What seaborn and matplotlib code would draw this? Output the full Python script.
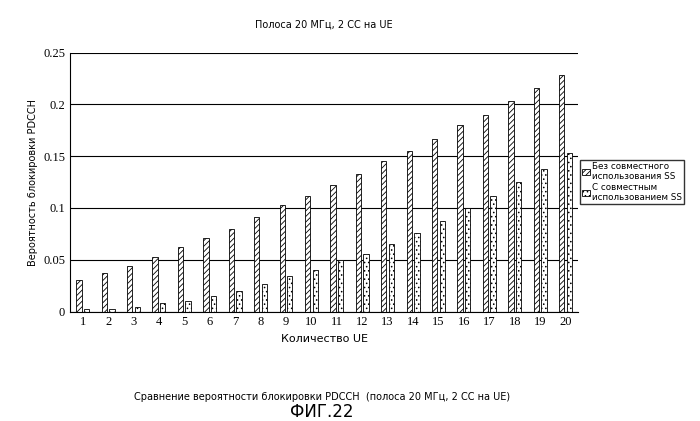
import matplotlib
matplotlib.use("Agg")
import matplotlib.pyplot as plt
import seaborn as sns
import pandas as pd

# данные с картинки
kol_ue = list(range(1, 21))
bez_ss = [0.030, 0.037, 0.044, 0.053, 0.062, 0.071, 0.080, 0.091, 0.103, 0.112,
          0.122, 0.133, 0.145, 0.155, 0.167, 0.180, 0.190, 0.203, 0.216, 0.228]
s_ss = [0.002, 0.002, 0.004, 0.008, 0.010, 0.015, 0.020, 0.027, 0.034, 0.040,
        0.050, 0.056, 0.065, 0.076, 0.087, 0.100, 0.112, 0.125, 0.138, 0.153]
serii = ["Без совместного\nиспользования SS", "С совместным\nиспользованием SS"]

df = pd.DataFrame({
    "ue": kol_ue * 2,
    "p": bez_ss + s_ss,
    "serija": [serii[0]] * 20 + [serii[1]] * 20,
})

plt.rcParams["font.family"] = "Liberation Serif"
plt.rcParams["hatch.linewidth"] = 0.6
fig = plt.figure(figsize=(7, 4.21), dpi=100)
ax = fig.add_axes([0.10, 0.26, 0.726, 0.615])

sns.barplot(data=df, x="ue", y="p", hue="serija", palette=["white", "white"],
            edgecolor="black", linewidth=0.6, width=0.6, gap=0.3, ax=ax, legend=True)
for bar in ax.containers[0]:
    bar.set_hatch("//////")
for bar in ax.containers[1]:
    bar.set_hatch("....")
h, l = ax.get_legend_handles_labels()
h[0].set_hatch("//////")
h[1].set_hatch("....")
ax.legend(h, l, loc="center left", bbox_to_anchor=(0.995, 0.5), frameon=True,
          edgecolor="black", fancybox=False, prop={"family": "DejaVu Sans", "size": 6.3},
          handlelength=0.9, handletextpad=0.3, borderpad=0.2, labelspacing=0.2)

ax.set_ylim(0, 0.25)
ax.set_yticks([0, 0.05, 0.1, 0.15, 0.2, 0.25])
ax.set_yticklabels(["0", "0.05", "0.1", "0.15", "0.2", "0.25"])
ax.yaxis.grid(True, color="black", linewidth=0.8)
ax.set_axisbelow(True)
for s in ["top", "right"]:
    ax.spines[s].set_visible(False)
ax.tick_params(labelsize=9, length=0)
ax.set_xlabel("Количество UE", fontsize=8, family="DejaVu Sans")
ax.set_ylabel("Вероятность блокировки PDCCH", fontsize=7, family="DejaVu Sans")
ax.set_title("Полоса 20 МГц, 2 CC на UE", fontsize=7, family="DejaVu Sans", pad=18)

fig.text(0.46, 0.05, "Сравнение вероятности блокировки PDCCH  (полоса 20 МГц, 2 CC на UE)",
         ha="center", fontsize=7, family="DejaVu Sans")
fig.text(0.46, 0.0, "ФИГ.22", ha="center", va="bottom", fontsize=12, family="DejaVu Sans")

fig.savefig("out.png", dpi=100)
